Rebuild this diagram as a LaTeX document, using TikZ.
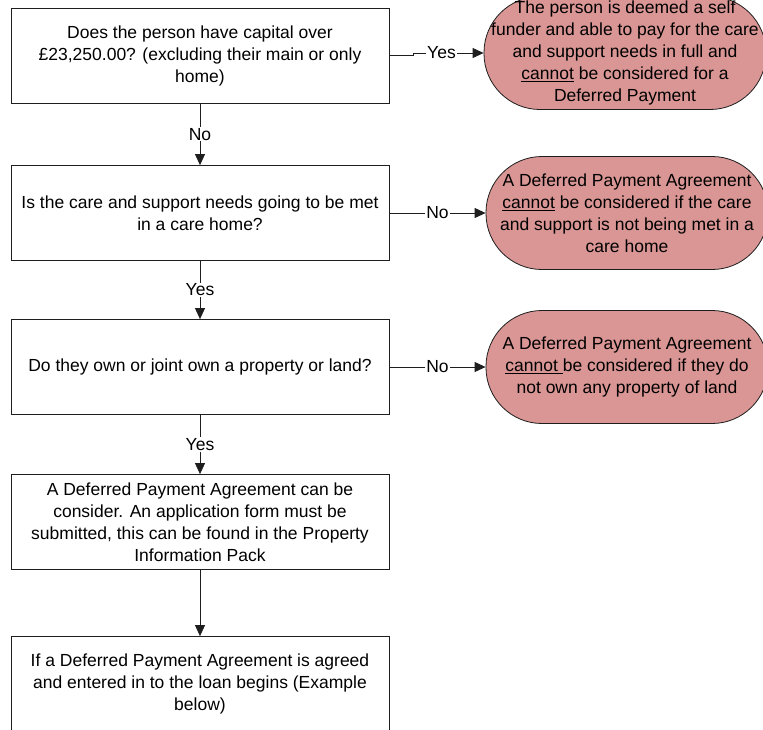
\documentclass[tikz,border=0pt]{standalone}
\usepackage{fontspec}
\setmainfont{Liberation Sans}
\usetikzlibrary{arrows.meta}
\definecolor{rose}{RGB}{217,150,148}
\definecolor{edge}{RGB}{30,30,30}
\tikzset{
  x=1pt,y=-1pt,
  box/.style={draw=edge,line width=0.8pt,fill=white,rectangle,minimum width=378pt,minimum height=95pt,align=center,font=\fontsize{17.5}{22}\selectfont,inner sep=1pt},
  oval/.style={draw=edge,line width=0.8pt,fill=rose,rectangle,rounded corners=56pt,minimum width=282pt,minimum height=113pt,align=center,font=\fontsize{17.5}{22}\selectfont,inner sep=0pt},
  arr/.style={draw=edge,line width=0.8pt,-{Triangle[length=11pt,width=10pt]}},
  lbl/.style={fill=white,font=\fontsize{17.5}{20}\selectfont,inner sep=1pt}
}
\begin{document}
\begin{tikzpicture}
\useasboundingbox (0,0) rectangle (763,729);
\clip (0,0) rectangle (763,729);
\fill[white] (0,0) rectangle (763,729);
\node[box] (b1) at (200,55.5) {Does the person have capital over\\£23,250.00? (excluding their main or only\\home)};
\node[box] (b2) at (200,213) {Is the care and support needs going to be met\\in a care home?};
\node[box] (b3) at (200,367) {Do they own or joint own a property or land?};
\node[box] (b4) at (200,522) {A Deferred Payment Agreement can be\\consider.  An application form must be\\submitted, this can be found in the Property\\Information Pack};
\node[box] (b5) at (200,684) {If a Deferred Payment Agreement is agreed\\and entered in to the loan begins (Example\\below)};
\node[oval] (o1) at (625,53) {The person is deemed a self\\funder and able to pay for the care\\and support needs in full and\\\underline{cannot} be considered for a\\Deferred Payment};
\node[oval] (o2) at (627,213) {A Deferred Payment Agreement\\\underline{cannot} be considered if the care\\and support is not being met in a\\care home};
\node[oval] (o3) at (627,367) {A Deferred Payment Agreement\\\underline{cannot }be considered if they do\\not own any property of land};
\draw[arr] (b1.east) -- ++(24,0) |- node[pos=0.7,lbl]{Yes} (o1.west);
\draw[arr] (b2.east) -- node[lbl]{No} (o2.west);
\draw[arr] (b3.east) -- node[lbl]{No} (o3.west);
\draw[arr] (b1.south) -- node[lbl]{No} (b2.north);
\draw[arr] (b2.south) -- node[lbl]{Yes} (b3.north);
\draw[arr] (b3.south) -- node[lbl]{Yes} (b4.north);
\draw[arr] (b4.south) -- (b5.north);
\end{tikzpicture}
\end{document}
